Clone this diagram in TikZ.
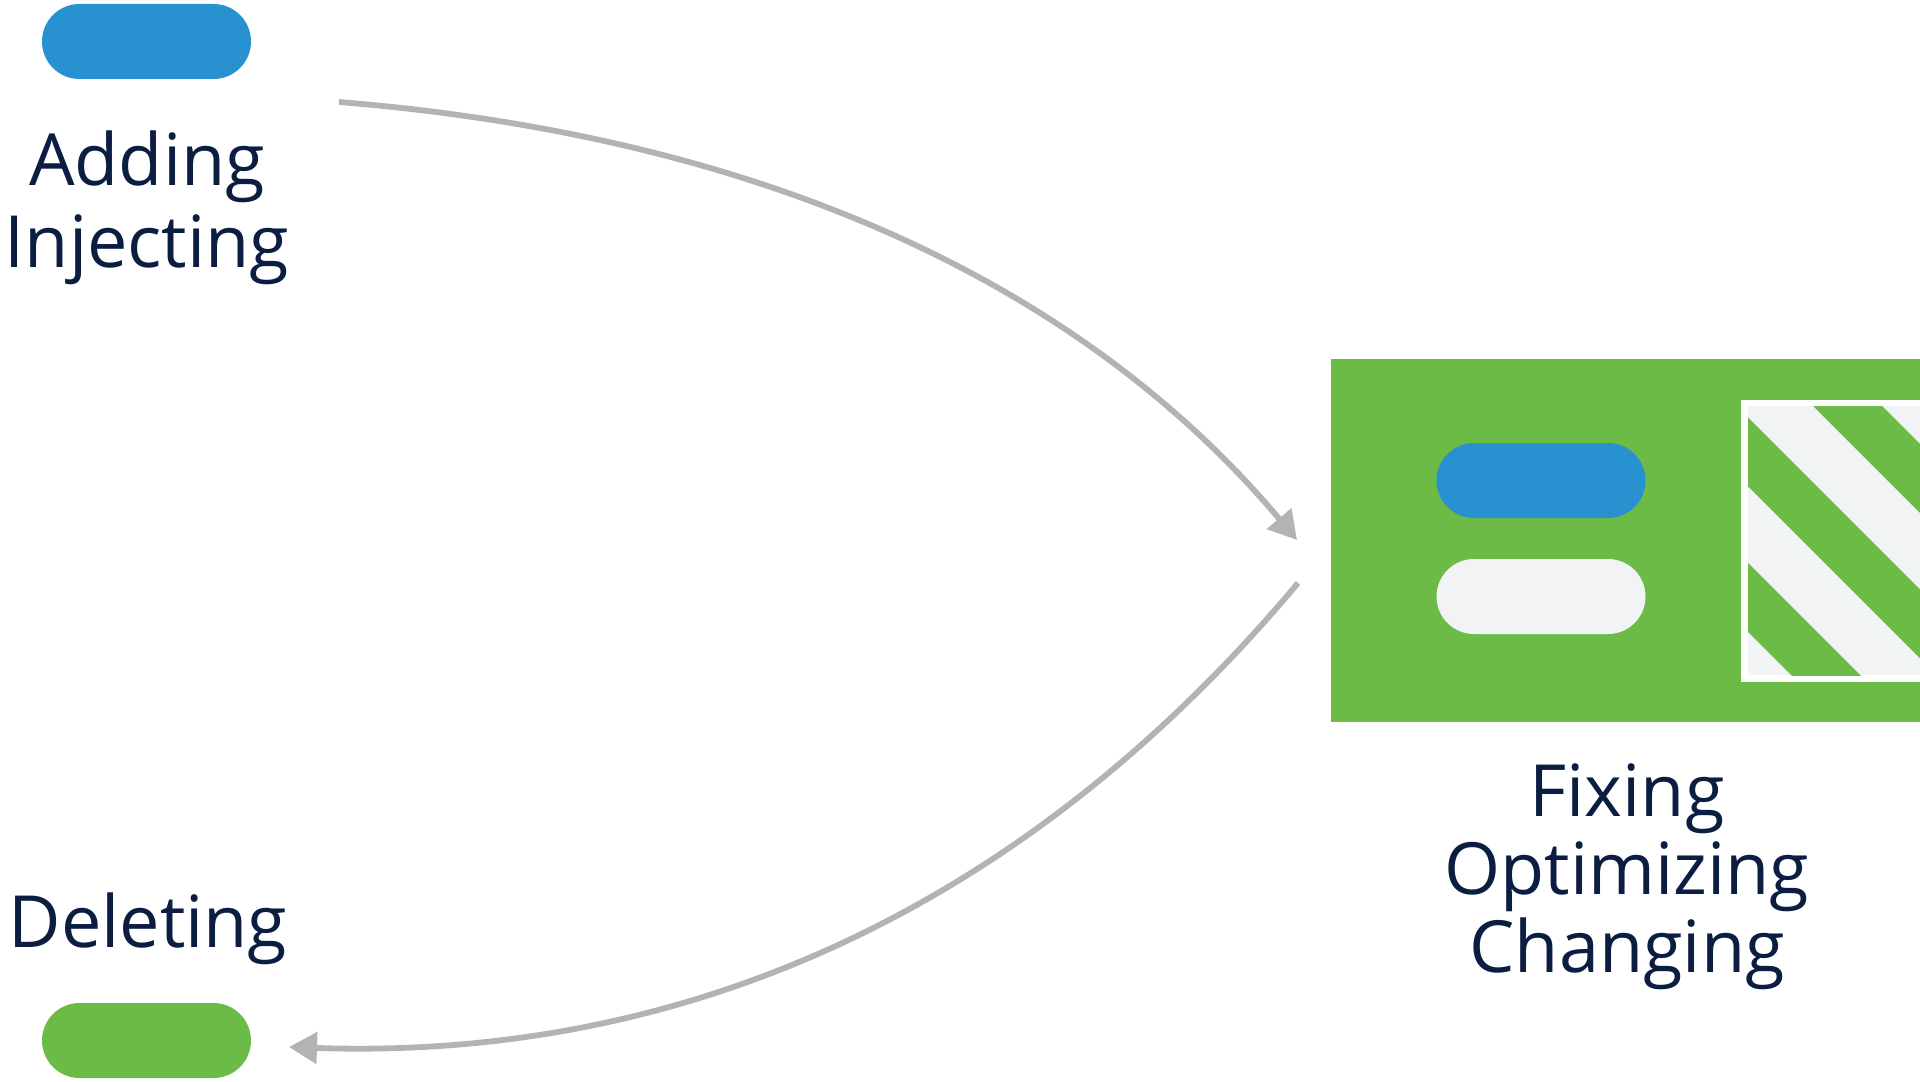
\documentclass[tikz,border=0pt]{standalone}
\usepackage{fontspec}
\setmainfont{Open Sans}
\usetikzlibrary{arrows.meta,positioning}
\definecolor{pillblue}{HTML}{2891D0}
\definecolor{leafgreen}{HTML}{6CBB47}
\definecolor{palegrey}{HTML}{F2F3F5}
\definecolor{inknavy}{HTML}{0C1D42}
\definecolor{flowgrey}{HTML}{B3B3B3}

\begin{document}
\begin{tikzpicture}[x=0.5pt,y=-0.5pt,
    pill/.style={rectangle,rounded corners=18.75pt,minimum width=104.5pt,minimum height=37.5pt,inner sep=0pt},
    lbl/.style={text=inknavy,align=center,inner sep=0pt,anchor=base},
    flow/.style={draw=flowgrey,line width=2.9pt,-{Triangle[length=14pt,width=15.5pt]}}]
  \useasboundingbox (0,0) rectangle (1920,1081);
  % green panel with the striped block
  \fill[leafgreen] (1331,359) rectangle (1920,722);
  \fill[white] (1741,400) rectangle (1920,682);
  \fill[palegrey] (1748,406) rectangle (1920,675);
  \begin{scope}
    \clip (1748,406) rectangle (1920,675);
    \foreach \s in {-1476,-1330.5,-1185}
      \fill[leafgreen] (1600,{1600+\s}) -- (2100,{2100+\s}) -- (2100,{2169+\s}) -- (1600,{1669+\s}) -- cycle;
  \end{scope}
  % pills
  \node[pill,fill=pillblue] (addpill) at (146.5,41.5) {};
  \node[pill,fill=leafgreen] (delpill) at (146.5,1040.5) {};
  \node[pill,fill=pillblue] (newpill) at (1541,480.5) {};
  \node[pill,fill=palegrey] (oldpill) at (1541,596.5) {};
  % labels (base = last line)
  \node[lbl,font=\fontsize{36}{41}\selectfont] (addtxt) at (147,267) {Adding\\Injecting};
  \node[lbl,font=\fontsize{36}{41}\selectfont] (deltxt) at (148,947) {Deleting};
  \node[lbl,font=\fontsize{36}{39}\selectfont] (fixtxt) at (1627,972) {Fixing\\Optimizing\\Changing};
  % the two flows
  \coordinate (instart) at (339,102);
  \coordinate (inend) at (1297,540);
  \coordinate (outstart) at (1298,583);
  \coordinate (outend) at (289,1047);
  \draw[flow] (instart) .. controls (760,136) and (1080,282) .. (inend);
  \draw[flow] (outstart) .. controls (1029,904) and (692,1061) .. (outend);
\end{tikzpicture}
\end{document}
